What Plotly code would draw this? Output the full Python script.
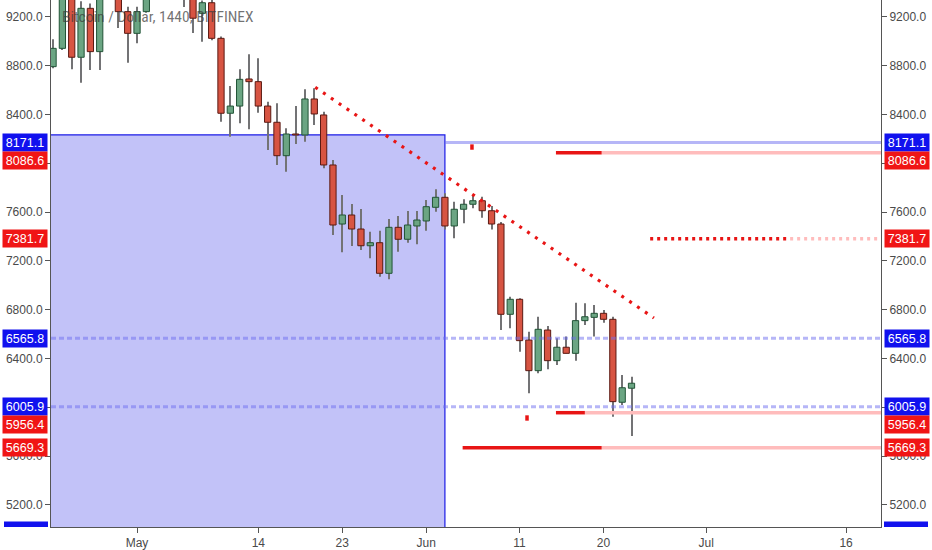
# coding=utf-8

"""Daily BTC/USD candles (Bitfinex) with drawn levels, zone and trend line"""

import pandas as pd
import plotly.graph_objects as go


###################################################################
# Data

dates = pd.date_range("2018-04-22", periods=63, freq="D")

opens = [8793, 8943, 9650, 8870, 9271, 8916, 9390, 9420, 9244, 9066,
         9244, 9400, 9730, 9700, 9850, 9650, 9230, 9317, 9025, 8411,
         8470, 8692, 8670, 8470, 8337, 8063, 8241, 8233, 8528, 8397,
         7987, 7503, 7577, 7462, 7325, 7350, 7099, 7476, 7378, 7487,
         7528, 7640, 7722, 7487, 7624, 7665, 7694, 7612, 7503, 6763,
         6886, 6552, 6301, 6634, 6383, 6493, 6443, 6711, 6738, 6771,
         6722, 6042, 6157]
highs = [9017, 9700, 9740, 9330, 9310, 9430, 9480, 9460, 9284, 9284,
         9420, 9780, 9790, 9900, 9930, 9680, 9335, 9360, 9040, 8634,
         8771, 8894, 8861, 8506, 8493, 8288, 8470, 8607, 8616, 8424,
         8028, 7741, 7667, 7626, 7440, 7448, 7544, 7569, 7610, 7610,
         7700, 7788, 7755, 7686, 7706, 7741, 7727, 7651, 7520, 6907,
         6894, 6620, 6743, 6667, 6566, 6580, 6858, 6853, 6839, 6798,
         6743, 6265, 6251]
lows = [8780, 8930, 8771, 8661, 8766, 8766, 9355, 9110, 8825, 8984,
        9235, 9360, 9540, 9650, 9282, 9069, 8998, 9010, 8342, 8219,
        8329, 8279, 8416, 8110, 7987, 7932, 8159, 8178, 8315, 7960,
        7413, 7271, 7323, 7290, 7222, 7071, 7050, 7276, 7350, 7337,
        7448, 7604, 7459, 7386, 7509, 7632, 7555, 7459, 6634, 6648,
        6456, 6115, 6279, 6312, 6347, 6443, 6383, 6675, 6580, 6694,
        5924, 6020, 5766]
closes = [8943, 9650, 8870, 9271, 8916, 9390, 9420, 9244, 9066, 9244,
          9400, 9730, 9700, 9850, 9650, 9190, 9317, 9025, 8411, 8470,
          8689, 8670, 8470, 8337, 8063, 8241, 8233, 8528, 8405, 7987,
          7495, 7577, 7462, 7325, 7350, 7099, 7476, 7378, 7495, 7536,
          7645, 7722, 7487, 7624, 7665, 7694, 7612, 7503, 6763, 6886,
          6547, 6301, 6640, 6383, 6493, 6443, 6711, 6743, 6771, 6722,
          6047, 6161, 6198]

# drawings (days counted from 1 May 2018)
zone_end_day = 33
zone_top = 8233
zone_bottom = 4990

trend_days = [19.1, 55.4]
trend_prices = [8624, 6733]

mark_days = [35.9, 41.8]
mark_prices = [8134, 5913]

blue_levels = [8171.1, 6565.8, 6005.9]
red_levels = [8086.6, 7381.7, 5956.4, 5669.3]
red_starts = [44.9, 55.0, 44.9, 34.9]
red_splits = [49.8, 70.0, 48.0, 49.8]

x_tick_days = [0, 13, 22, 31, 41, 50, 61, 76]
x_tick_text = ["May", "14", "23", "Jun", "11", "20", "Jul", "16"]
y_ticks = [5200, 5600, 6000, 6400, 6800, 7200, 7600, 8000, 8400, 8800, 9200]

title_text = "Bitcoin / Dollar, 1440, BITFINEX"

###################################################################

BASE = pd.Timestamp("2018-05-01")
X_START, X_END = -9.22, 79.74
Y_RANGE = [5019.5, 9339.3]
DAY_MS = 86400000

UP_FILL, UP_LINE = "#6ba583", "#225437"
DN_FILL, DN_LINE = "#d75442", "#5b1a13"
WICK = "#737375"
BLUE_BOX, RED_BOX = "#1111ee", "#f01515"
BLUE_LINE = "rgba(110,110,240,0.5)"
RED_DARK, RED_LIGHT = "#e81515", "#ffbcbc"
TXT = "#4a4a4a"
FONT = "Liberation Sans"


def day(d):
    return BASE + pd.Timedelta(days=d)


def build_figure():

    fig = go.Figure()

    up = [c >= o for o, c in zip(opens, closes)]

    # wicks
    fig.add_trace(go.Bar(
        x=dates, y=[h - l for h, l in zip(highs, lows)], base=lows,
        width=0.11 * DAY_MS, marker=dict(color=WICK, line=dict(width=0)),
        hoverinfo="skip"
    ))

    # bodies
    fig.add_trace(go.Bar(
        x=dates,
        y=[max(abs(c - o), 4) for o, c in zip(opens, closes)],
        base=[min(o, c) for o, c in zip(opens, closes)],
        width=0.67 * DAY_MS,
        marker=dict(color=[UP_FILL if u else DN_FILL for u in up],
                    line=dict(color=[UP_LINE if u else DN_LINE for u in up], width=1)),
        hoverinfo="skip"
    ))

    # horizontal levels
    for i, p in enumerate(blue_levels):
        if i == 0:
            fig.add_trace(go.Scatter(x=[day(zone_end_day), day(X_END)], y=[p, p], mode="lines",
                                     line=dict(color=BLUE_LINE, width=3)))
        else:
            fig.add_trace(go.Scatter(x=[day(X_START), day(X_END)], y=[p, p], mode="lines",
                                     line=dict(color=BLUE_LINE, width=3, dash="5px,3px")))

    for p, s, m in zip(red_levels, red_starts, red_splits):
        dash = "3px,4px" if p == 7381.7 else "solid"
        fig.add_trace(go.Scatter(x=[day(m), day(X_END)], y=[p, p], mode="lines",
                                 line=dict(color=RED_LIGHT, width=3.5, dash=dash)))
        fig.add_trace(go.Scatter(x=[day(s), day(m)], y=[p, p], mode="lines",
                                 line=dict(color=RED_DARK, width=3.5, dash=dash)))

    # trend line
    fig.add_trace(go.Scatter(x=[day(d) for d in trend_days], y=trend_prices, mode="lines",
                             line=dict(color=RED_DARK, width=3.2, dash="3px,6.5px")))

    # small marks
    for d, p in zip(mark_days, mark_prices):
        fig.add_trace(go.Scatter(x=[day(d), day(d)], y=[p - 22, p + 22], mode="lines",
                                 line=dict(color=RED_DARK, width=3.5)))

    # dummy trace for the right price scale
    fig.add_trace(go.Scatter(x=[day(0)], y=[7000], yaxis="y2", mode="markers",
                             marker=dict(opacity=0), hoverinfo="skip"))

    # zone rectangle
    fig.add_shape(type="rect", xref="x", yref="y",
                  x0=day(X_START - 5), x1=day(zone_end_day), y0=zone_bottom, y1=zone_top,
                  fillcolor="#c2c2f8", line=dict(color="#1a1ae6", width=1.2), layer="below")

    # price labels on both scales
    labels = [(8171.1, BLUE_BOX, 0), (8086.6, RED_BOX, -7.5), (7381.7, RED_BOX, 0),
              (6565.8, BLUE_BOX, 0), (6005.9, BLUE_BOX, 0), (5956.4, RED_BOX, -11.5),
              (5669.3, RED_BOX, 0)]
    for p, col, shift in labels:
        for side in ("left", "right"):
            fig.add_annotation(
                xref="paper", yref="y", x=0 if side == "left" else 1, y=p,
                xanchor="right" if side == "left" else "left",
                xshift=-3 if side == "left" else 3, yshift=shift,
                text="%.1f" % p, showarrow=False, bgcolor=col,
                width=40, height=13, borderpad=2,
                font=dict(family=FONT, size=12.5, color="white")
            )

    # clipped label for the bottom of the zone
    for x0, x1 in (((4 - 51) / 830, (48 - 51) / 830), ((884 - 51) / 830, (928 - 51) / 830)):
        fig.add_shape(type="rect", xref="paper", yref="paper", x0=x0, x1=x1,
                      y0=0, y1=5.5 / 527, fillcolor=BLUE_BOX, line=dict(width=0))

    fig.add_annotation(
        xref="paper", yref="paper", x=9 / 830, y=1 - 17 / 527, xanchor="left", yanchor="middle",
        text=title_text, showarrow=False,
        font=dict(family="Liberation Sans Narrow, Roboto Condensed, Roboto", size=15.5,
                  color="rgba(60,60,60,0.72)")
    )

    axis_common = dict(showgrid=False, zeroline=False, showline=True, linecolor="#555",
                       linewidth=1, ticks="outside", ticklen=5, tickcolor="#555",
                       tickfont=dict(family=FONT, size=12, color=TXT))

    fig.update_layout(
        width=932, height=550,
        margin=dict(l=51, r=51, t=0, b=23, autoexpand=False),
        plot_bgcolor="white", paper_bgcolor="white",
        barmode="overlay", showlegend=False, hovermode=False,
        xaxis=dict(type="date", range=[day(X_START), day(X_END)],
                   tickvals=[day(d) for d in x_tick_days], ticktext=x_tick_text,
                   **axis_common),
        yaxis=dict(range=Y_RANGE, tickvals=y_ticks, tickformat=".1f", side="left",
                   **axis_common),
        yaxis2=dict(range=Y_RANGE, tickvals=y_ticks, tickformat=".1f", side="right",
                    overlaying="y", **axis_common),
    )

    return fig


###################################################################

if __name__ == "__main__":

    fig = build_figure()
    fig.write_html("out.html", config={"displayModeBar": False},
                   post_script="document.body.style.margin = '0';")
